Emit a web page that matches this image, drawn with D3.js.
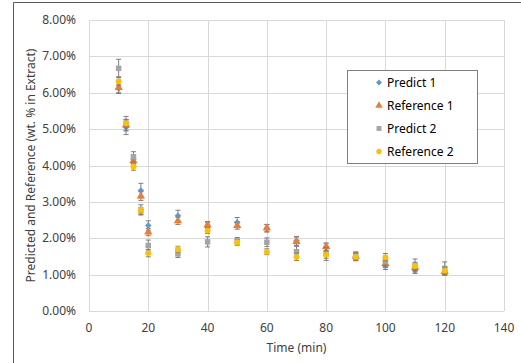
<!DOCTYPE html>
<html>
<head>
<meta charset="utf-8">
<script src="https://cdn.jsdelivr.net/npm/d3@7"></script>
<style>
  body { margin: 0; background: #fff; }
  text { font-family: "Noto Sans", sans-serif; fill: #404040; }
</style>
</head>
<body>
<div id="chart"></div>
<script>
// data
const times = [10, 12.5, 15, 17.5, 20, 30, 40, 50, 60, 70, 80, 90, 100, 110, 120];
const predict1 = [6.12, 5.05, 4.18, 3.31, 2.35, 2.62, 2.33, 2.43, 2.27, 1.93, 1.75, 1.50, 1.24, 1.13, 1.10];
const reference1 = [6.14, 5.12, 4.13, 3.16, 2.17, 2.48, 2.36, 2.35, 2.28, 1.91, 1.77, 1.50, 1.30, 1.20, 1.08];
const predict2 = [6.67, 5.15, 4.24, 2.75, 1.80, 1.57, 1.90, 1.92, 1.89, 1.63, 1.57, 1.52, 1.37, 1.25, 1.17];
const reference2 = [6.32, 5.16, 3.97, 2.78, 1.59, 1.70, 2.21, 1.89, 1.63, 1.49, 1.55, 1.49, 1.48, 1.24, 1.11];
const errPredict1 = [0.12, 0.2, 0.12, 0.2, 0.13, 0.15, 0.1, 0.14, 0.1, 0.12, 0.1, 0.12, 0.1, 0.1, 0.1];
const errReference1 = [0.16, 0.15, 0.1, 0.12, 0.1, 0.1, 0.1, 0.1, 0.1, 0.12, 0.1, 0.1, 0.1, 0.1, 0.1];
const errPredict2 = [0.25, 0.2, 0.14, 0.1, 0.15, 0.1, 0.14, 0.1, 0.12, 0.15, 0.18, 0.1, 0.12, 0.18, 0.18];
const errReference2 = [0.12, 0.1, 0.1, 0.14, 0.1, 0.08, 0.08, 0.08, 0.08, 0.1, 0.1, 0.1, 0.1, 0.1, 0.1];
const xTicks = [0, 20, 40, 60, 80, 100, 120, 140];
const yTicks = [0, 1, 2, 3, 4, 5, 6, 7, 8];

const series = [
  { name: "Predict 1", values: predict1, err: errPredict1, color: "#5B9BD5", symbol: d3.symbolSquare, size: 22, rot: 45 },
  { name: "Reference 1", values: reference1, err: errReference1, color: "#ED7D31", symbol: d3.symbolTriangle, size: 30, rot: 0 },
  { name: "Predict 2", values: predict2, err: errPredict2, color: "#A5A5A5", symbol: d3.symbolSquare, size: 30, rot: 0 },
  { name: "Reference 2", values: reference2, err: errReference2, color: "#FFC000", symbol: d3.symbolCircle, size: 28, rot: 0 }
];

// setup
const width = 521, height = 363;
const plot = { left: 89, right: 504, top: 20, bottom: 311 };

const svg = d3.select("#chart").append("svg")
    .attr("width", width).attr("height", height);

// chart frame
svg.append("path")
    .attr("d", `M13.5,${height} V2.5 H${width}`)
    .attr("fill", "none").attr("stroke", "#595959").attr("stroke-width", 1);

const x = d3.scaleLinear().domain([0, 140]).range([plot.left, plot.right]);
const y = d3.scaleLinear().domain([0, 8]).range([plot.bottom, plot.top]);

// gridlines
const grid = svg.append("g").attr("stroke", "#d9d9d9").attr("stroke-width", 1);
grid.selectAll(".h").data(yTicks).join("line")
    .attr("x1", plot.left).attr("x2", plot.right)
    .attr("y1", d => Math.round(y(d)) + 0.5).attr("y2", d => Math.round(y(d)) + 0.5);
grid.selectAll(".v").data(xTicks).join("line")
    .attr("y1", plot.top).attr("y2", plot.bottom)
    .attr("x1", d => Math.round(x(d)) + 0.5).attr("x2", d => Math.round(x(d)) + 0.5);

// tick labels
svg.append("g").selectAll("text").data(yTicks).join("text")
    .attr("x", 76).attr("y", d => y(d) + 4)
    .attr("text-anchor", "end").style("font-size", "12px")
    .text(d => d.toFixed(2) + "%");
svg.append("g").selectAll("text").data(xTicks).join("text")
    .attr("x", d => x(d)).attr("y", 332)
    .attr("text-anchor", "middle").style("font-size", "12px")
    .text(d => d);

// axis titles
svg.append("text").attr("x", (plot.left + plot.right) / 2).attr("y", 352)
    .attr("text-anchor", "middle").style("font-size", "12px").text("Time (min)");
svg.append("text").attr("transform", `translate(35,${(plot.top + plot.bottom) / 2}) rotate(-90)`)
    .attr("text-anchor", "middle").style("font-size", "12px")
    .text("Predicted and Reference (wt. % in Extract)");

// series: error bars then markers
series.forEach(s => {
  const pts = times.map((t, i) => ({ t, v: s.values[i], e: s.err[i] }));
  const g = svg.append("g");
  const eb = g.append("g").attr("stroke", "#7f7f7f").attr("stroke-width", 1);
  eb.selectAll(".stem").data(pts).join("line")
      .attr("x1", d => x(d.t)).attr("x2", d => x(d.t))
      .attr("y1", d => y(d.v - d.e)).attr("y2", d => y(d.v + d.e));
  eb.selectAll(".capt").data(pts).join("line")
      .attr("x1", d => x(d.t) - 2.5).attr("x2", d => x(d.t) + 2.5)
      .attr("y1", d => y(d.v + d.e)).attr("y2", d => y(d.v + d.e));
  eb.selectAll(".capb").data(pts).join("line")
      .attr("x1", d => x(d.t) - 2.5).attr("x2", d => x(d.t) + 2.5)
      .attr("y1", d => y(d.v - d.e)).attr("y2", d => y(d.v - d.e));
  g.selectAll("path").data(pts).join("path")
      .attr("d", d3.symbol().type(s.symbol).size(s.size))
      .attr("transform", d => `translate(${x(d.t)},${y(d.v)}) rotate(${s.rot})`)
      .attr("fill", s.color);
});

// legend
const legend = svg.append("g");
legend.append("rect")
    .attr("x", 347.5).attr("y", 70.5).attr("width", 130).attr("height", 93)
    .attr("fill", "#fff").attr("stroke", "#7f7f7f").attr("stroke-width", 1);
const items = legend.selectAll(".item").data(series).join("g")
    .attr("transform", (d, i) => `translate(379,${82.5 + i * 23})`);
items.append("path")
    .attr("d", d => d3.symbol().type(d.symbol).size(d.size * 0.8)())
    .attr("transform", d => `rotate(${d.rot})`)
    .attr("fill", d => d.color);
items.append("text").attr("x", 8).attr("y", 4.5)
    .style("font-size", "12px").style("fill", "#000").text(d => d.name);
</script>
</body>
</html>
